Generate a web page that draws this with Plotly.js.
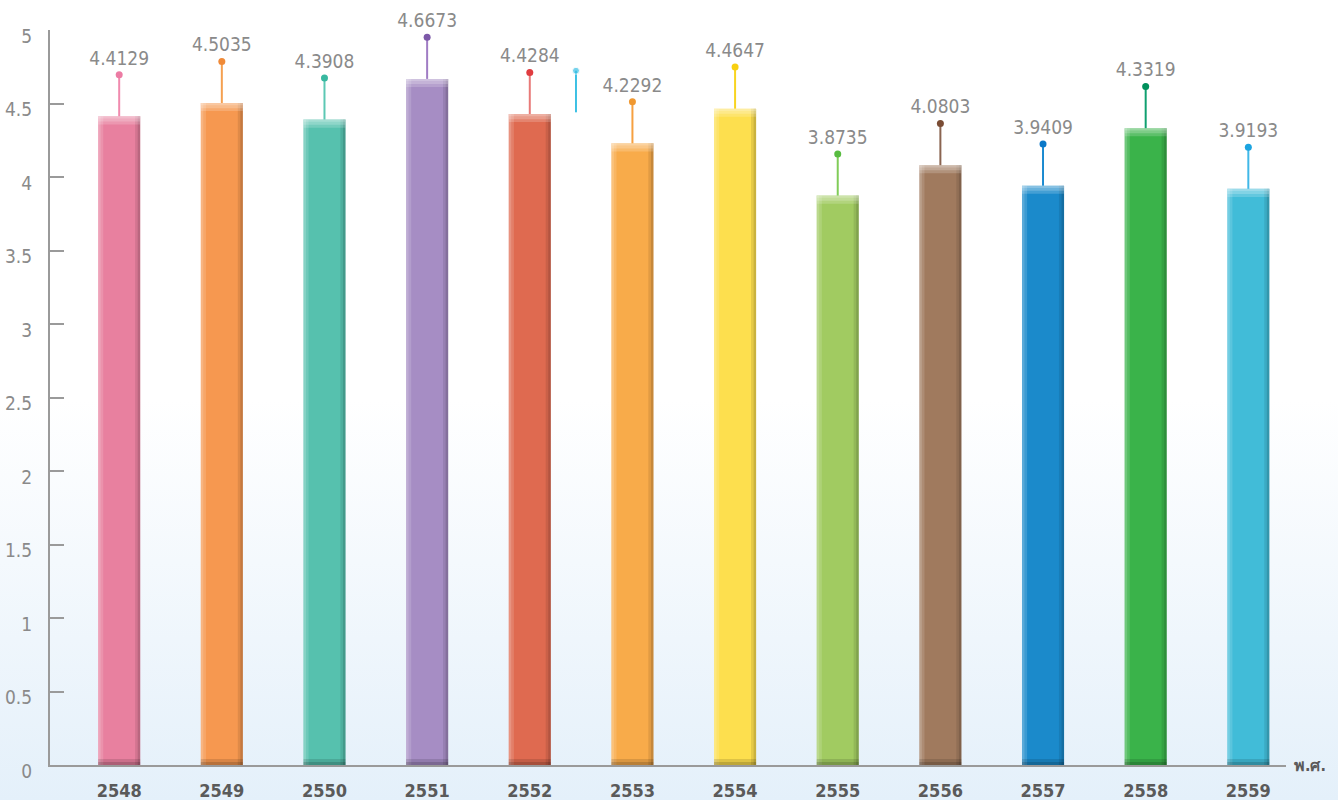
<!DOCTYPE html>
<html>
<head>
<meta charset="utf-8">
<script src="https://cdn.plot.ly/plotly-3.0.1.min.js"></script>
<style>
  html, body { margin: 0; padding: 0; }
  body {
    width: 1338px; height: 800px; overflow: hidden;
    background: linear-gradient(to bottom, #ffffff 0%, #ffffff 50%, #e4f0fa 100%);
  }
  #chart { width: 1338px; height: 800px; }
</style>
</head>
<body>
<div id="chart"></div>
<script>
// ---- data ----
const years = ["2548","2549","2550","2551","2552","2553","2554","2555","2556","2557","2558","2559"];
const values = [4.4129, 4.5035, 4.3908, 4.6673, 4.4284, 4.2292, 4.4647, 3.8735, 4.0803, 3.9409, 4.3319, 3.9193];
const barColors = ["#e8809f","#f69850","#56c1ae","#a68dc4","#df6a50","#f8ab4a","#fddf4e","#a1cb61","#a07a5e","#1b8acb","#3ab34a","#41bcd8"];
const pinColors = ["#f08aae","#f5a050","#5cc8b4","#a07cc4","#e87a78","#f6a040","#f8d420","#80cc58","#8a6450","#1a8ad0","#10a070","#40b8e8"];
const dotColors = ["#ec7ca4","#f08a38","#38b8a0","#7c58a8","#e03c40","#f09830","#f8d010","#58bc40","#7a4c34","#0a78c8","#00905c","#1ca4e0"];
// stray pin drawn between 2552 and 2553 in the original
const strayX = [4.45];
const strayBase = [4.44];
const strayColor = "#3cc0e4";
const xAxisUnit = "พ.ศ.";

// ---- style constants ----
const W = 0.41;      // bar width (category units)
const PIN = 0.283;   // pin length (y units)
const xIdx = years.map((_, i) => i);
const GRAY = "#9a9a9a";
const FONT = "Liberation Sans Narrow, DejaVu Sans Condensed, Roboto, Arial, sans-serif";

const traces = [];
// main bars
traces.push({
  type: "bar", x: xIdx, y: values, width: W,
  marker: { color: barColors, line: { width: 0 } },
  hoverinfo: "skip", showlegend: false
});
// shading overlays (vertical strips)
const strips = [
  { off: -W/2, w: 0.025, c: "rgba(255,255,255,0.28)" },
  { off: -W/2 + 0.025, w: 0.025, c: "rgba(255,255,255,0.14)" },
  { off: W/2 - 0.025, w: 0.025, c: "rgba(0,0,0,0.20)" },
  { off: W/2 - 0.05, w: 0.025, c: "rgba(0,0,0,0.09)" }
];
strips.forEach(s => traces.push({
  type: "bar", x: xIdx, y: values, width: s.w, offset: s.off,
  marker: { color: s.c, line: { width: 0 } }, hoverinfo: "skip", showlegend: false
}));
// top highlight bands
[{ h: 0.055, c: "rgba(255,255,255,0.18)" }, { h: 0.035, c: "rgba(255,255,255,0.2)" }, { h: 0.015, c: "rgba(255,255,255,0.2)" }].forEach(b => traces.push({
  type: "bar", x: xIdx, y: values.map(() => b.h), base: values.map(v => v - b.h),
  width: W, marker: { color: b.c, line: { width: 0 } }, hoverinfo: "skip", showlegend: false
}));
// bottom dark bands
[{ h: 0.04, c: "rgba(0,0,0,0.12)" }, { h: 0.02, c: "rgba(0,0,0,0.15)" }].forEach(b => traces.push({
  type: "bar", x: xIdx, y: values.map(() => b.h), base: values.map(() => 0),
  width: W, marker: { color: b.c, line: { width: 0 } }, hoverinfo: "skip", showlegend: false
}));
// pins
xIdx.forEach(i => {
  traces.push({
    type: "scatter", mode: "lines", x: [i, i], y: [values[i], values[i] + PIN],
    line: { color: pinColors[i], width: 2 }, hoverinfo: "skip", showlegend: false,
    cliponaxis: false
  });
});
// stray pin
strayX.forEach((sx, k) => traces.push({
  type: "scatter", mode: "lines+markers", x: [sx, sx], y: [strayBase[k], strayBase[k] + PIN],
  line: { color: strayColor, width: 2 }, marker: { size: [0, 7], color: strayColor },
  hoverinfo: "skip", showlegend: false, cliponaxis: false
}));
// dots + value labels
traces.push({
  type: "scatter", mode: "markers+text", x: xIdx, y: values.map(v => v + PIN),
  marker: { size: 7, color: dotColors },
  text: values.map(v => v.toFixed(4)), textposition: "top center",
  textfont: { family: FONT, size: 19, color: "#8a8a8a" },
  hoverinfo: "skip", showlegend: false, cliponaxis: false
});

const layout = {
  width: 1338, height: 800,
  margin: { l: 50, r: 52, t: 30, b: 35 },
  paper_bgcolor: "rgba(0,0,0,0)", plot_bgcolor: "rgba(0,0,0,0)",
  barmode: "overlay",
  showlegend: false,
  xaxis: {
    range: [-0.674, 11.367], tickmode: "array", tickvals: xIdx, ticktext: years,
    showline: true, linecolor: GRAY, linewidth: 2, ticks: "", showgrid: false, zeroline: false,
    tickfont: { family: FONT, size: 18, color: "#5a5a5a", weight: "bold" },
    ticklabelstandoff: 8
  },
  yaxis: {
    range: [0, 5], dtick: 0.5, tick0: 0,
    showline: true, linecolor: GRAY, linewidth: 2,
    ticks: "inside", ticklen: 14, tickwidth: 2, tickcolor: GRAY,
    showgrid: false, zeroline: false,
    tickfont: { family: FONT, size: 19, color: "#8a8a8a" },
    ticklabelstandoff: 12, ticklabelshift: 6
  },
  annotations: [{
    text: xAxisUnit, xref: "paper", yref: "y", x: 1, y: 0,
    xanchor: "left", yanchor: "middle", xshift: 6, showarrow: false,
    font: { family: FONT, size: 16, color: "#5a5a5a", weight: "bold" }
  }]
};

Plotly.newPlot("chart", traces, layout, { displayModeBar: false, staticPlot: true });
</script>
</body>
</html>
